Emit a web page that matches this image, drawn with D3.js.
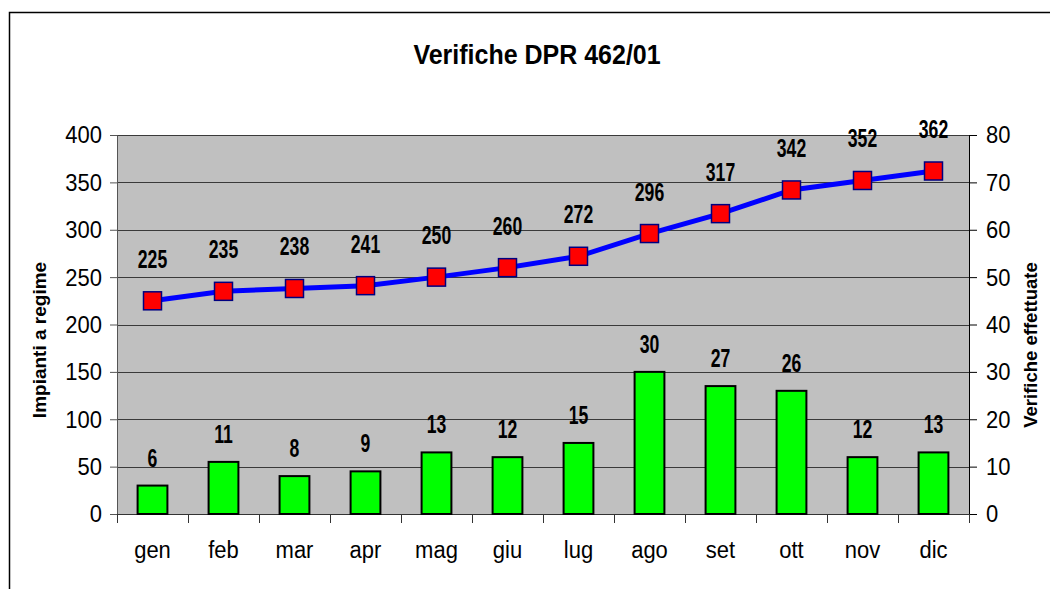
<!DOCTYPE html>
<html>
<head>
<meta charset="utf-8">
<script src="https://cdn.jsdelivr.net/npm/d3@7"></script>
<style>
  body { margin: 0; background: #fff; overflow: hidden; }
  svg { display: block; overflow: hidden; }
  text { font-family: "Liberation Sans", Arial, sans-serif; fill: #000; }
  .lbl { font-weight: bold; font-size: 22px; }
</style>
</head>
<body>
<div id="chart"></div>
<script>
const months = ['gen','feb','mar','apr','mag','giu','lug','ago','set','ott','nov','dic']
const impianti = [225,235,238,241,250,260,272,296,317,342,352,362]
const verifiche = [6,11,8,9,13,12,15,30,27,26,12,13]
const leftTicks = [0,50,100,150,200,250,300,350,400]
const rightTicks = [0,10,20,30,40,50,60,70,80]

const W = 1050, H = 589
const plot = {left:117, right:969, top:135, bottom:514}

const svg = d3.select('#chart').append('svg')
    .attr('width', W)
    .attr('height', H)

// outer frame: only top and left edges show inside the picture
svg.append('path')
    .attr('d', `M9.5,${H} V12.5 H${W}`)
    .attr('fill', 'none').attr('stroke', '#000').attr('stroke-width', 1.5)

svg.append('text')
    .attr('transform', 'translate(537,64) scale(1,1.1)')
    .attr('text-anchor', 'middle')
    .style('font-weight', 'bold').style('font-size', '25px')
    .text('Verifiche DPR 462/01')

const x = d3.scaleBand().domain(months).range([plot.left, plot.right]).paddingInner(0.58).paddingOuter(0.29)
const xp = d3.scalePoint().domain(months).range([plot.left, plot.right]).padding(0.5)
const yL = d3.scaleLinear().domain([0,400]).range([plot.bottom, plot.top])
const yR = d3.scaleLinear().domain([0,80]).range([plot.bottom, plot.top])

svg.append('rect')
    .attr('x', plot.left).attr('y', plot.top)
    .attr('width', plot.right - plot.left).attr('height', plot.bottom - plot.top)
    .attr('fill', '#c0c0c0')

// gridlines
svg.append('g').selectAll('line')
    .data(leftTicks.slice(1))
    .enter().append('line')
    .attr('x1', plot.left).attr('x2', plot.right)
    .attr('y1', d => Math.round(yL(d)) + 0.5).attr('y2', d => Math.round(yL(d)) + 0.5)
    .attr('stroke', '#3a3a3a').attr('stroke-width', 1)

// left axis
const axL = svg.append('g')
    .attr('transform', `translate(${plot.left},0)`)
    .call(d3.axisLeft(yL).tickValues(leftTicks).tickSize(7).tickPadding(8))
axL.select('.domain').attr('stroke', '#555')
axL.selectAll('.tick line').attr('stroke', '#555')
axL.selectAll('.tick text')
    .style('font-size', '22px').style('font-family', '"Liberation Sans", Arial, sans-serif')
    .attr('transform', 'scale(1,1.12)')

// right axis
const axR = svg.append('g')
    .attr('transform', `translate(${plot.right},0)`)
    .call(d3.axisRight(yR).tickValues(rightTicks).tickSize(8).tickPadding(9))
axR.select('.domain').attr('stroke', '#000')
axR.selectAll('.tick text')
    .style('font-size', '22px').style('font-family', '"Liberation Sans", Arial, sans-serif')
    .attr('transform', 'scale(1,1.12)')

// bottom axis: ticks between categories
const step = x.step()
const bnd = d3.range(months.length + 1).map(i => plot.left + i * step)
svg.append('line')
    .attr('x1', plot.left).attr('x2', plot.right)
    .attr('y1', plot.bottom + 0.5).attr('y2', plot.bottom + 0.5)
    .attr('stroke', '#333')
svg.append('g').selectAll('line')
    .data(bnd)
    .enter().append('line')
    .attr('x1', d => Math.round(d) + 0.5).attr('x2', d => Math.round(d) + 0.5)
    .attr('y1', plot.bottom).attr('y2', plot.bottom + 9)
    .attr('stroke', '#333')
svg.append('g').selectAll('text')
    .data(months)
    .enter().append('text')
    .attr('transform', d => `translate(${xp(d)},558) scale(1,1.12)`)
    .attr('text-anchor', 'middle')
    .style('font-size', '22px')
    .text(d => d)

// bars
svg.append('g').selectAll('rect')
    .data(verifiche)
    .enter().append('rect')
    .attr('x', (d, i) => x(months[i]))
    .attr('y', d => yR(d))
    .attr('width', x.bandwidth())
    .attr('height', d => plot.bottom - yR(d))
    .attr('fill', '#00ff00').attr('stroke', '#000').attr('stroke-width', 2)

svg.append('g').selectAll('text')
    .data(verifiche)
    .enter().append('text')
    .attr('class', 'lbl')
    .attr('transform', (d, i) => `translate(${xp(months[i])},${yR(d) - 19}) scale(0.8,1.18)`)
    .attr('text-anchor', 'middle')
    .text(d => d)

// line
const line = d3.line()
    .x((d, i) => xp(months[i]))
    .y(d => yL(d))
svg.append('path')
    .datum(impianti)
    .attr('d', line)
    .attr('fill', 'none').attr('stroke', '#0000ff').attr('stroke-width', 5)

svg.append('g').selectAll('rect')
    .data(impianti)
    .enter().append('rect')
    .attr('x', (d, i) => xp(months[i]) - 9)
    .attr('y', d => yL(d) - 9)
    .attr('width', 18).attr('height', 18)
    .attr('fill', '#ff0000').attr('stroke', '#000080').attr('stroke-width', 1.5)

svg.append('g').selectAll('text')
    .data(impianti)
    .enter().append('text')
    .attr('class', 'lbl')
    .attr('transform', (d, i) => `translate(${xp(months[i])},${yL(d) - 33}) scale(0.8,1.18)`)
    .attr('text-anchor', 'middle')
    .text(d => d)

// axis titles
svg.append('g')
    .attr('transform', 'translate(46,340) rotate(-90)')
    .append('text')
    .attr('text-anchor', 'middle')
    .style('font-weight', 'bold').style('font-size', '19px')
    .text('Impianti a regime')

svg.append('g')
    .attr('transform', 'translate(1037,345) rotate(-90)')
    .append('text')
    .attr('text-anchor', 'middle')
    .style('font-weight', 'bold').style('font-size', '18.5px')
    .text('Verifiche effettuate')
</script>
</body>
</html>
